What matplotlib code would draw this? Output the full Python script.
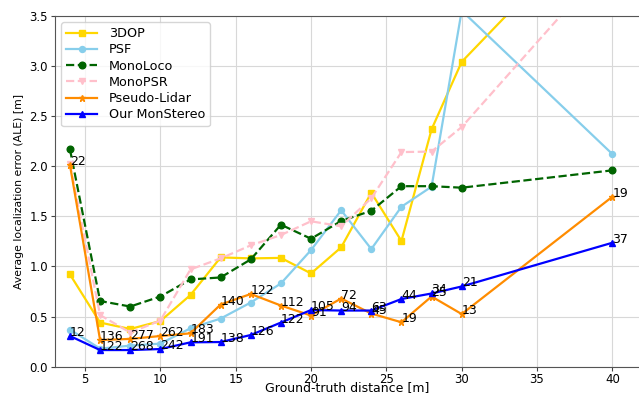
import matplotlib
matplotlib.use("Agg")
import matplotlib.pyplot as plt

x_3dop = [4, 6, 8, 10, 12, 14, 16, 18, 20, 22, 24, 26, 28, 30, 40]
y_3dop = [0.92, 0.44, 0.376, 0.455, 0.715, 1.09, 1.08, 1.085, 0.93, 1.19, 1.735, 1.253, 2.367, 3.04, 4.6]

x_psf = [4, 6, 8, 10, 12, 14, 16, 18, 20, 22, 24, 26, 28, 30, 40]
y_psf = [0.37, 0.18, 0.21, 0.23, 0.383, 0.48, 0.64, 0.83, 1.163, 1.56, 1.173, 1.595, 1.795, 3.55, 2.12]

x_monoloco = [4, 6, 8, 10, 12, 14, 16, 18, 20, 22, 24, 26, 28, 30, 40]
y_monoloco = [2.167, 0.655, 0.60, 0.70, 0.87, 0.89, 1.07, 1.416, 1.276, 1.453, 1.555, 1.80, 1.80, 1.785, 1.958]

x_monopsr = [4, 6, 8, 10, 12, 14, 16, 18, 20, 22, 24, 26, 28, 30, 40]
y_monopsr = [2.02, 0.515, 0.34, 0.46, 0.97, 1.08, 1.21, 1.313, 1.45, 1.40, 1.68, 2.14, 2.145, 2.39, 4.08]

x_pl = [4, 6, 8, 10, 12, 14, 16, 18, 20, 22, 24, 26, 28, 30, 40]
y_pl = [2.01, 0.266, 0.277, 0.306, 0.333, 0.62, 0.725, 0.61, 0.51, 0.68, 0.53, 0.443, 0.70, 0.525, 1.695]
n_pl = [22, 136, 277, 262, 183, 140, 122, 112, 91, 72, 45, 19, 25, 13, 19]

x_ms = [4, 6, 8, 10, 12, 14, 16, 18, 20, 22, 24, 26, 28, 30, 40]
y_ms = [0.306, 0.166, 0.166, 0.176, 0.243, 0.246, 0.316, 0.44, 0.565, 0.56, 0.56, 0.675, 0.73, 0.80, 1.236]
n_ms = [12, 122, 268, 242, 191, 138, 126, 122, 105, 94, 63, 44, 34, 21, 37]

xticks = [5, 10, 15, 20, 25, 30, 35, 40]
yticks = [0.0, 0.5, 1.0, 1.5, 2.0, 2.5, 3.0, 3.5]

fig = plt.figure(figsize=(6.39, 3.96), dpi=100)
ax = fig.add_axes([54.9 / 639, (396 - 366.7) / 396, 584.6 / 639, 351.0 / 396])

ms = 4.3
ax.plot(x_3dop, y_3dop, color="gold", marker="s", markersize=ms, lw=1.6, label="3DOP")
ax.plot(x_psf, y_psf, color="skyblue", marker="o", markersize=ms, lw=1.6, label="PSF")
ax.plot(x_monoloco, y_monoloco, color="darkgreen", marker="o", markersize=ms + 0.5, lw=1.6,
        ls="--", label="MonoLoco")
ax.plot(x_monopsr, y_monopsr, color="pink", marker="v", markersize=ms + 0.5, lw=1.6,
        ls="--", label="MonoPSR")
ax.plot(x_pl, y_pl, color="darkorange", marker="*", markersize=ms + 0.5, lw=1.6, label="Pseudo-Lidar")
ax.plot(x_ms, y_ms, color="blue", marker="^", markersize=ms + 0.3, lw=1.6, label="Our MonStereo")

for xv, yv, n in zip(x_pl, y_pl, n_pl):
    ax.text(xv, yv, str(n), fontsize=9, color="black")
for xv, yv, n in zip(x_ms, y_ms, n_ms):
    ax.text(xv, yv, str(n), fontsize=9, color="black")

ax.set_xlim(3, 41.8)
ax.set_ylim(0, 3.5)
ax.set_xticks(xticks)
ax.set_yticks(yticks)
ax.set_yticklabels([f"{v:.1f}" for v in yticks])
ax.tick_params(labelsize=8.5, length=3, pad=2, color="#444444")
ax.tick_params(axis="x", pad=1.5)
ax.grid(True, color="#d8d8d8", lw=0.8)
ax.set_axisbelow(True)
for s in ["left", "bottom", "top"]:
    ax.spines[s].set_color("#555555")
ax.spines["right"].set_visible(False)

ax.set_xlabel("Ground-truth distance [m]", fontsize=9)
ax.xaxis.set_label_coords(0.5, -0.042)
ax.xaxis.label.set_verticalalignment("top")
ax.set_ylabel("Average localization error (ALE) [m]", fontsize=7.8, labelpad=4)

ax.legend(loc="upper left", fontsize=9.2, handlelength=2.4, borderaxespad=0.5,
          labelspacing=0.25, handletextpad=0.9)

fig.savefig("out.png", dpi=100)
